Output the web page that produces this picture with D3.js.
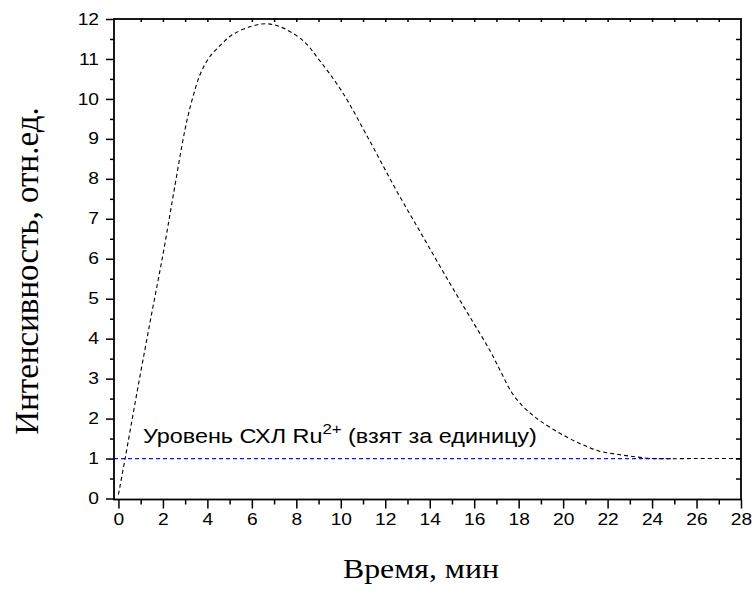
<!DOCTYPE html>
<html>
<head>
<meta charset="utf-8">
<script src="https://cdn.jsdelivr.net/npm/d3@7"></script>
<style>
  html, body { margin: 0; padding: 0; background: #fff; }
  svg { display: block; }
</style>
</head>
<body>
<svg id="chart" width="756" height="594"></svg>
<script>
// Chemiluminescence intensity vs time
const timeMin = [0, 0.3, 0.8, 1.4, 2.0, 2.5, 3.0, 3.3, 3.7, 4.1, 4.6, 5.1, 6.0, 6.65, 7.3, 8.3, 9.05, 10.07,
                 11.3, 12.5, 13.7, 14.9, 15.8, 16.7, 17.2, 17.7, 18.2, 18.6, 19.0, 19.8, 20.7, 21.6, 22.5, 23.3, 24.0, 26.0, 28.0];
const intensity = [0.1, 1.0, 2.55, 4.35, 6.1, 7.7, 9.25, 9.95, 10.65, 11.05, 11.35, 11.6, 11.82, 11.88, 11.8, 11.46, 10.96, 10.17,
                   8.95, 7.71, 6.55, 5.39, 4.55, 3.71, 3.17, 2.64, 2.3, 2.1, 1.93, 1.65, 1.39, 1.19, 1.1, 1.04, 1.0, 1.0, 1.0];

// Reference level (Ru2+ chemiluminescence taken as unity)
const levelValue = 1;
const levelRange = [-0.2, 25];

const xTickValues = [0, 2, 4, 6, 8, 10, 12, 14, 16, 18, 20, 22, 24, 26, 28];
const yTickValues = [0, 1, 2, 3, 4, 5, 6, 7, 8, 9, 10, 11, 12];

const xTitle = "Время, мин";
const yTitle = "Интенсивность, отн.ед.";

const svg = d3.select("#chart");
const plotL = 114, plotR = 741, plotT = 19, plotB = 499.5;
const sx = 1.2; // horizontal widening of the lettering

const x = d3.scaleLinear().domain([-0.2, 28]).range([plotL, plotR]);
const y = d3.scaleLinear().domain([-0.025, 12]).range([plotB, plotT]);

const sans = "'Liberation Sans', Arial, sans-serif";
const serif = "'Liberation Serif', 'Times New Roman', serif";

// Curves
svg.append("line")
  .attr("x1", x(levelRange[0])).attr("x2", x(levelRange[1]))
  .attr("y1", y(levelValue)).attr("y2", y(levelValue))
  .attr("stroke", "#1010ff").attr("stroke-width", 1.2)
  .attr("stroke-dasharray", "4,3");

const line = d3.line().x((d, i) => x(timeMin[i])).y(d => y(d)).curve(d3.curveCatmullRom.alpha(0.5));
svg.append("path")
  .datum(intensity)
  .attr("d", line)
  .attr("fill", "none")
  .attr("stroke", "#000").attr("stroke-width", 1.1)
  .attr("stroke-dasharray", "4,3");

// Axes
const minorX = d3.range(1, 28, 2);
const minorY = d3.range(0.5, 12, 1);

svg.append("g").attr("transform", `translate(0,${plotB})`)
  .call(d3.axisBottom(x).tickValues(xTickValues).tickSize(9).tickPadding(5).tickFormat(d3.format("d")));
svg.append("g").attr("transform", `translate(0,${plotB})`)
  .call(d3.axisBottom(x).tickValues(minorX).tickSize(5).tickFormat(""));

const gy = svg.append("g").attr("transform", `translate(${plotL},0)`)
  .call(d3.axisLeft(y).tickValues(yTickValues).tickSize(8).tickPadding(7).tickFormat(d3.format("d")));
svg.append("g").attr("transform", `translate(${plotL},0)`)
  .call(d3.axisLeft(y).tickValues(minorY).tickSize(4).tickFormat(""));

svg.append("g").attr("transform", `translate(0,${plotT})`)
  .call(d3.axisBottom(x).tickValues(d3.range(1, 28, 1)).tickSize(3).tickFormat(""));
svg.append("g").attr("transform", `translate(${plotR},0)`)
  .call(d3.axisLeft(y).tickValues(d3.range(0.5, 12, 0.5)).tickSize(5).tickFormat(""));

svg.selectAll(".domain").remove();
svg.selectAll(".tick line").attr("stroke", "#000").attr("stroke-width", 1.5);
svg.selectAll(".tick text").attr("font-family", sans).attr("font-size", 16).attr("fill", "#000")
  .attr("transform", `scale(${sx},1)`);
gy.selectAll(".tick text").attr("x", -15 / sx);

// Frame
svg.append("rect")
  .attr("x", plotL).attr("y", plotT)
  .attr("width", plotR - plotL).attr("height", plotB - plotT)
  .attr("fill", "none").attr("stroke", "#000").attr("stroke-width", 1.8);

// Titles
svg.append("text")
  .attr("transform", `translate(421,578) scale(${sx},1)`)
  .attr("text-anchor", "middle")
  .attr("font-family", serif).attr("font-size", 26.5)
  .text(xTitle);

svg.append("text")
  .attr("transform", "translate(38,271) rotate(-90)")
  .attr("text-anchor", "middle")
  .attr("font-family", serif).attr("font-size", 33)
  .text(yTitle);

// Level annotation
const ann = svg.append("text")
  .attr("transform", `translate(143,443) scale(${sx},1)`)
  .attr("font-family", sans).attr("font-size", 19.5);
ann.append("tspan").text("Уровень СХЛ Ru");
ann.append("tspan").attr("font-size", 14).attr("dy", -9).text("2+");
ann.append("tspan").attr("dy", 9).text(" (взят за единицу)");
</script>
</body>
</html>
